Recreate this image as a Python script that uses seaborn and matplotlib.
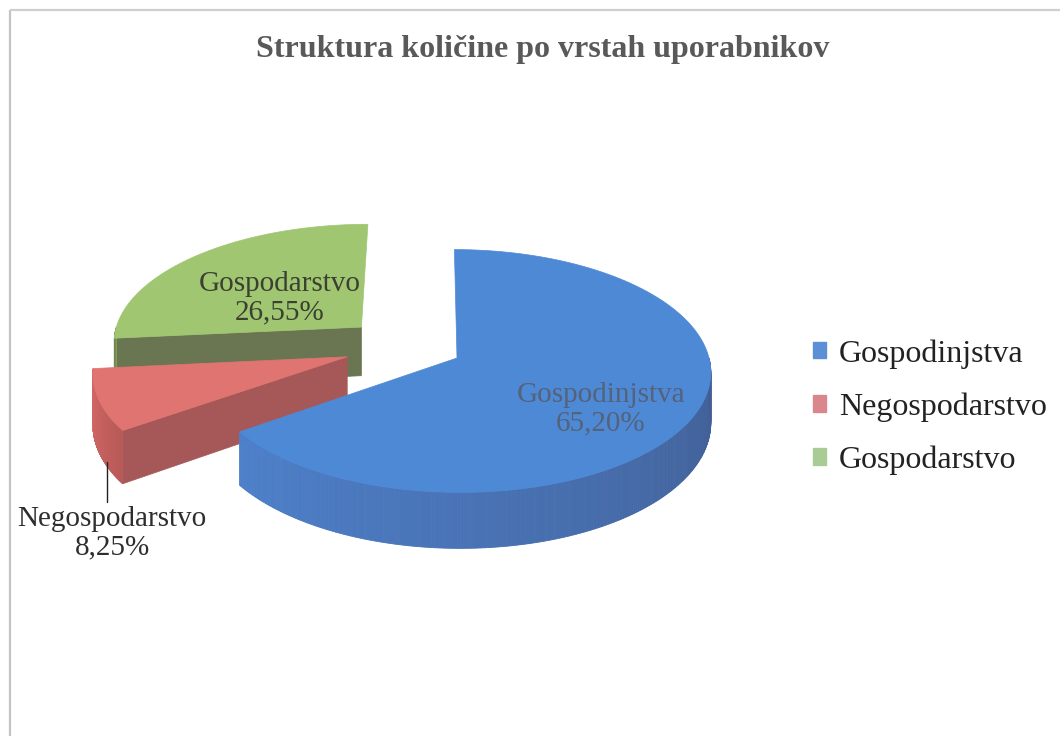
import numpy as np
import matplotlib
matplotlib.use("Agg")
import matplotlib.pyplot as plt
from matplotlib.patches import Polygon, Patch
import seaborn as sns

# ---- data ----
categories = ["Gospodinjstva", "Negospodarstvo", "Gospodarstvo"]
shares = [65.20, 8.25, 26.55]
share_labels = ["65,20%", "8,25%", "26,55%"]
title = "Struktura količine po vrstah uporabnikov"

# ---- style ----
sns.set_theme(style="white")
plt.rcParams["font.family"] = ["Liberation Serif", "DejaVu Serif"]

top_colors = ["#4e89d6", "#e07471", "#a0c672"]
rim_light = ["#4d80ca", "#d96a68", "#86a35c"]
rim_dark = ["#415e94", "#b85a58", "#6f8450"]
cut_colors = ["#3f5f95", "#a65757", "#6a7652"]
legend_colors = ["#5b8fd6", "#d9878d", "#a9cc96"]

center = (457.0, 358.0)
vanish_x = 430.0
rx, ry, depth, persp = 252.0, 120.0, 50.0, 0.107
explode_unit = [(0.0, 0.0), (-0.436, 0.01), (-0.387, 0.265)]
label_pos = [(601, 409), (112, 533), (280, 298)]
label_col = ["#54627a", "#2e2e2e", "#3b4030"]

fig = plt.figure(figsize=(10.6, 7.36), dpi=100)
ax = fig.add_axes([0, 0, 1, 1])
ax.set_xlim(0, 1060)
ax.set_ylim(736, 0)
ax.axis("off")

# frame
ax.plot([10, 10], [10, 736], color="#c4c4c4", lw=1.6, solid_capstyle="butt")
ax.plot([10, 1060], [10, 10], color="#cfcfcf", lw=1.6, solid_capstyle="butt")

# angles (clockwise from 12 o'clock)
fr = np.array(shares) / np.sum(shares)
ends = 90.0 - 360.0 * np.concatenate([[0], np.cumsum(fr)])
intervals = [(ends[i + 1], ends[i]) for i in range(len(shares))]  # ccw start, end


def proj(X, Y, h=0.0):
    s = 1.0 / (1.0 + persp * Y)
    wx = center[0] + rx * X
    return (vanish_x + (wx - vanish_x) * s, center[1] - ry * Y * s + depth * h * s)


def rim_pt(i, a, h=0.0):
    ex, ey = explode_unit[i]
    r = np.deg2rad(a)
    return proj(ex + np.cos(r), ey + np.sin(r), h)


def ctr_pt(i, h=0.0):
    ex, ey = explode_unit[i]
    return proj(ex, ey, h)


def lerp(c1, c2, t):
    a = np.array(matplotlib.colors.to_rgb(c1))
    b = np.array(matplotlib.colors.to_rgb(c2))
    return tuple(a + (b - a) * t)


def draw_slice(i):
    a0, a1 = intervals[i]
    # radial cut faces
    for a, vis in ((a0, np.cos(np.deg2rad(a0)) > 0.01), (a1, np.cos(np.deg2rad(a1)) < -0.01)):
        if vis:
            poly = [ctr_pt(i), rim_pt(i, a), rim_pt(i, a, 1), ctr_pt(i, 1)]
            ax.add_patch(Polygon(poly, closed=True, fc=cut_colors[i], ec=cut_colors[i], lw=0.5))
    # outer rim
    angs = np.linspace(a0, a1, 400)
    vis_angs = angs[np.sin(np.deg2rad(angs)) < 0]
    if len(vis_angs) > 1:
        lo, hi = vis_angs.min(), vis_angs.max()
        for k in range(len(vis_angs) - 1):
            s, e = vis_angs[k], vis_angs[k + 1]
            col = lerp(rim_light[i], rim_dark[i], (s - lo) / max(hi - lo, 1e-6))
            poly = [rim_pt(i, s), rim_pt(i, e), rim_pt(i, e, 1), rim_pt(i, s, 1)]
            ax.add_patch(Polygon(poly, closed=True, fc=col, ec=col, lw=0.6))
    # top face
    arc = [rim_pt(i, a) for a in np.linspace(a0, a1, 300)]
    ax.add_patch(Polygon([ctr_pt(i)] + arc, closed=True, fc=top_colors[i], ec=top_colors[i], lw=0.5))


# back to front: green, red, blue
for i in [2, 1, 0]:
    draw_slice(i)

# data labels
for i in range(len(categories)):
    ax.text(label_pos[i][0], label_pos[i][1], f"{categories[i]}\n{share_labels[i]}",
            ha="center", va="center", fontsize=21, color=label_col[i], linespacing=1.1)

# leader line for the small slice
ax.plot([107, 107], [462, 502], color="#222222", lw=1.0)

# title
ax.text(543, 50, title, ha="center", va="center", fontsize=23, fontweight="bold", color="#595959")

# legend
handles = [Patch(facecolor=legend_colors[i], edgecolor=legend_colors[i]) for i in range(len(categories))]
leg = ax.legend(handles, categories, loc="center left", bbox_to_anchor=(784, 407),
                bbox_transform=ax.transData, frameon=False, fontsize=23,
                handlelength=0.42, handleheight=0.42, handletextpad=0.4, labelspacing=0.74)
for t in leg.get_texts():
    t.set_color("#222222")

fig.savefig("out.png", dpi=100)
